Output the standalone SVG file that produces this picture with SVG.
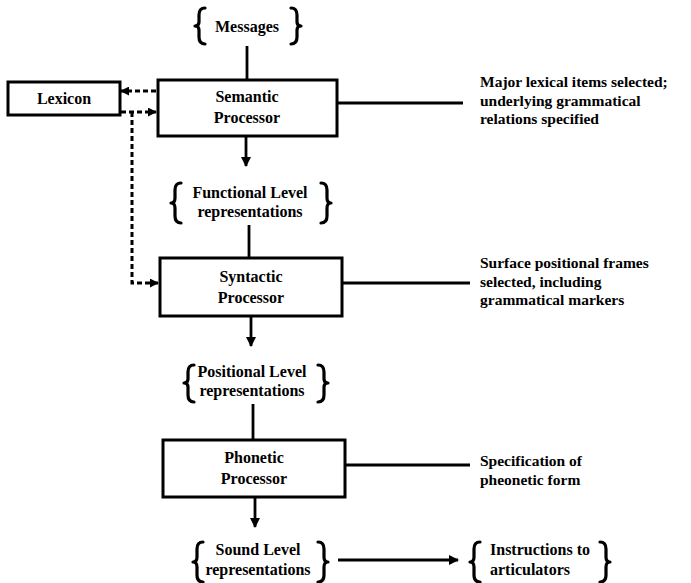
<svg xmlns="http://www.w3.org/2000/svg" width="691" height="583" viewBox="0 0 691 583">
<style>
.box{fill:#fff;stroke:#000;stroke-width:3}
.ln{fill:none;stroke:#000;stroke-width:2.8}
.dash{fill:none;stroke:#000;stroke-width:3;stroke-dasharray:5 3}
.br{fill:none;stroke:#000;stroke-width:3.2;stroke-linecap:round;stroke-linejoin:round}
text{font-family:"Liberation Serif","Times New Roman",serif;font-weight:bold;font-size:16px;fill:#000}
.c{text-anchor:middle}
.note{font-size:15.5px}
</style>
<defs>
<marker id="ah" viewBox="0 0 10 10" refX="9" refY="5" markerWidth="10" markerHeight="10" markerUnits="userSpaceOnUse" orient="auto">
<path d="M0,0 L10,5 L0,10 z" fill="#000"/>
</marker>
<marker id="ahs" viewBox="0 0 10 10" refX="9" refY="5" markerWidth="9" markerHeight="9" markerUnits="userSpaceOnUse" orient="auto">
<path d="M0,0 L10,5 L0,10 z" fill="#000"/>
</marker>
</defs>
<rect width="691" height="583" fill="#fff"/>

<g id="connectors">
<line class="ln" x1="247" y1="46" x2="247" y2="80"/>
<line class="ln" x1="246" y1="136" x2="246" y2="166" marker-end="url(#ah)"/>
<line class="ln" x1="249" y1="225" x2="249" y2="258"/>
<line class="ln" x1="251" y1="316" x2="251" y2="346" marker-end="url(#ah)"/>
<line class="ln" x1="253" y1="404" x2="253" y2="440"/>
<line class="ln" x1="255" y1="497" x2="255" y2="527" marker-end="url(#ah)"/>
<line class="ln" x1="338" y1="560" x2="458" y2="560" marker-end="url(#ah)"/>
<line class="ln" x1="337" y1="103" x2="463" y2="103"/>
<line class="ln" x1="342" y1="283" x2="470" y2="283"/>
<line class="ln" x1="345" y1="465" x2="470" y2="465"/>
<line class="dash" x1="156" y1="91" x2="121" y2="91" marker-end="url(#ahs)"/>
<line class="dash" x1="121" y1="112" x2="156" y2="112" marker-end="url(#ahs)"/>
<path class="dash" d="M132,112 L132,283 L158,283" marker-end="url(#ahs)"/>
</g>

<g id="messages">
<path class="br" d="M205,8 Q199,8 199,15 L199,22 Q199,26 195,26 Q199,26 199,30 L199,37 Q199,44 205,44"/>
<text class="c" x="247" y="32">Messages</text>
<path class="br" d="M291,8 Q297,8 297,15 L297,22 Q297,26 301,26 Q297,26 297,30 L297,37 Q297,44 291,44"/>
</g>

<g id="lexicon">
<rect class="box" x="8" y="82" width="112" height="33"/>
<text class="c" x="64" y="104">Lexicon</text>
</g>

<g id="semantic">
<rect class="box" x="158" y="80" width="179" height="56"/>
<text class="c" x="247" y="102">Semantic</text>
<text class="c" x="247" y="123">Processor</text>
</g>

<g id="semantic-note">
<text class="note" x="480" y="87">Major lexical items selected;</text>
<text class="note" x="480" y="106">underlying grammatical</text>
<text class="note" x="480" y="124">relations specified</text>
</g>

<g id="functional">
<path class="br" d="M181,183 Q175,183 175,190 L175,198 Q175,203 171,203 Q175,203 175,208 L175,216 Q175,223 181,223"/>
<text class="c" x="250" y="198">Functional Level</text>
<text class="c" x="250" y="217">representations</text>
<path class="br" d="M321,183 Q327,183 327,190 L327,198 Q327,203 331,203 Q327,203 327,208 L327,216 Q327,223 321,223"/>
</g>

<g id="syntactic">
<rect class="box" x="160" y="258" width="182" height="58"/>
<text class="c" x="251" y="282">Syntactic</text>
<text class="c" x="251" y="303">Processor</text>
</g>

<g id="syntactic-note">
<text class="note" x="480" y="268">Surface positional frames</text>
<text class="note" x="480" y="287">selected,  including</text>
<text class="note" x="480" y="305">grammatical markers</text>
</g>

<g id="positional">
<path class="br" d="M194,365 Q188,365 188,372 L188,379 Q188,383 184,383 Q188,383 188,387 L188,395 Q188,402 194,402"/>
<text class="c" x="252" y="377">Positional Level</text>
<text class="c" x="252" y="396">representations</text>
<path class="br" d="M318,365 Q324,365 324,372 L324,379 Q324,383 328,383 Q324,383 324,387 L324,395 Q324,402 318,402"/>
</g>

<g id="phonetic">
<rect class="box" x="163" y="440" width="182" height="57"/>
<text class="c" x="254" y="463">Phonetic</text>
<text class="c" x="254" y="484">Processor</text>
</g>

<g id="phonetic-note">
<text class="note" x="480" y="466">Specification of</text>
<text class="note" x="480" y="485">pheonetic form</text>
</g>

<g id="sound">
<path class="br" d="M203,542 Q197,542 197,549 L197,557 Q197,562 193,562 Q197,562 197,567 L197,575 Q197,582 203,582"/>
<text class="c" x="258" y="555">Sound Level</text>
<text class="c" x="258" y="575">representations</text>
<path class="br" d="M318,542 Q324,542 324,549 L324,557 Q324,562 328,562 Q324,562 324,567 L324,575 Q324,582 318,582"/>
</g>

<g id="instructions">
<path class="br" d="M480,542 Q474,542 474,549 L474,557 Q474,562 470,562 Q474,562 474,567 L474,575 Q474,582 480,582"/>
<text x="490" y="555">Instructions to</text>
<text x="490" y="575">articulators</text>
<path class="br" d="M600,542 Q606,542 606,549 L606,557 Q606,562 610,562 Q606,562 606,567 L606,575 Q606,582 600,582"/>
</g>
</svg>
